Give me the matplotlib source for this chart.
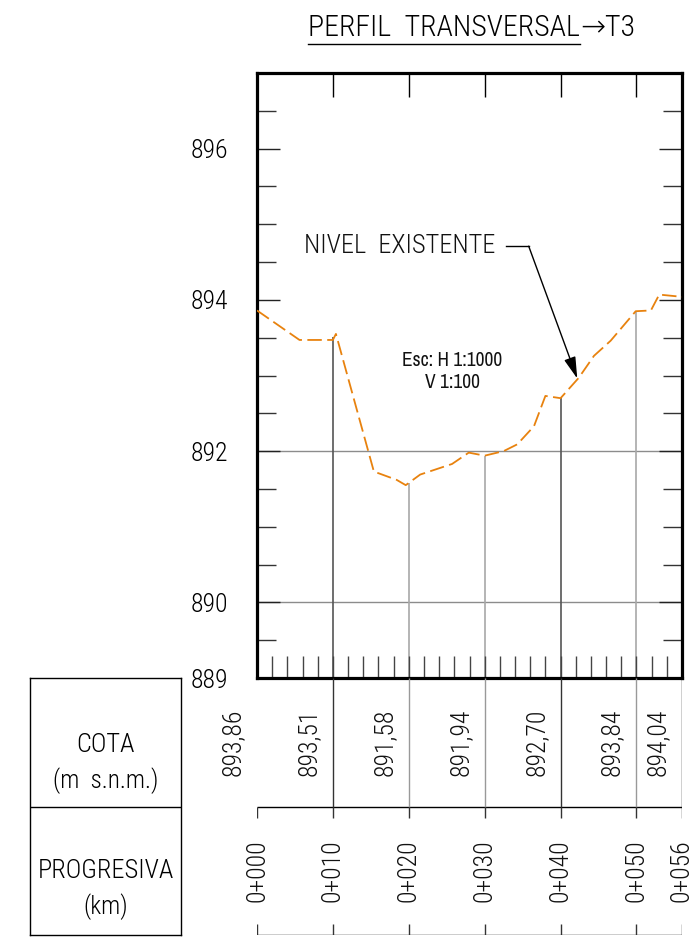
import matplotlib
matplotlib.use("Agg")
import matplotlib.pyplot as plt
import numpy as np
from matplotlib.lines import Line2D

# --- data ---
prof_x = [0, 5.6, 10.0, 10.4, 15.4, 18.4, 19.6, 21.5, 25.7, 27.9, 30.0, 32.5,
          34.3, 36.5, 38.0, 40.0, 42.4, 44.4, 46.6, 49.9, 51.9, 53.0, 56.0]
prof_z = [893.86, 893.47, 893.47, 893.55, 891.73, 891.62, 891.55, 891.69, 891.83,
          891.98, 891.94, 892.00, 892.09, 892.33, 892.73, 892.70, 892.97, 893.26,
          893.46, 893.85, 893.86, 894.07, 894.04]

stations = [0, 10, 20, 30, 40, 50, 56]
cotas = [893.86, 893.51, 891.58, 891.94, 892.70, 893.84, 894.04]
cota_labels = ["893,86", "893,51", "891,58", "891,94", "892,70", "893,84", "894,04"]
prog_labels = ["0+000", "0+010", "0+020", "0+030", "0+040", "0+050", "0+056"]

y_major = [889, 890, 892, 894, 896]
y_labels = ["889", "890", "892", "894", "896"]
grid_levels = [890, 892]

W, H = 689, 948
CAD = ["Roboto Condensed", "DejaVu Sans"]
ARIAL = ["Archivo Narrow", "Liberation Sans", "DejaVu Sans"]
plt.rcParams["font.family"] = CAD


def rect(x0, y0, x1, y1):
    # pixel box (top-left origin) -> figure fraction
    return [x0 / W, 1 - y1 / H, (x1 - x0) / W, (y1 - y0) / H]


fig = plt.figure(figsize=(W / 100, H / 100), dpi=100)

# --- profile plot ---
ax = fig.add_axes(rect(257, 73, 682, 678))
ax.set_xlim(0, 56)
ax.set_ylim(889, 897)

for g in grid_levels:
    ax.axhline(g, color="#8c8c8c", lw=1.0, zorder=1)

st_cols = ["#555555", "#a8a8a8", "#a8a8a8", "#555555", "#a8a8a8"]
for s, z, c in zip(stations[1:-1], cotas[1:-1], st_cols):
    ax.vlines(s, 889, z, color=c, lw=1.2, zorder=1)

ax.plot(prof_x, prof_z, color="#E8820E", lw=1.3, dashes=(8, 3), zorder=3)

for sp in ax.spines.values():
    sp.set_linewidth(2.3)
    sp.set_color("black")

ax.set_yticks(y_major)
ax.set_yticklabels(y_labels)
ax.set_yticks(np.arange(889.5, 897, 0.5), minor=True)
ax.tick_params(axis="y", which="major", direction="in", length=16.6, width=1.0,
               left=True, right=True, labelleft=True, labelright=False,
               pad=21, labelsize=18.5, color="#222222")
ax.tick_params(axis="y", which="minor", direction="in", length=13.7, width=1.0,
               left=True, right=True, color="#333333")
for lab in ax.get_yticklabels():
    lab.set_fontweight("light")

# bottom ticks every 2 m, top ticks at stations
ax.xaxis.remove_overlapping_locs = False
ax.set_xticks(stations[1:-1])
ax.set_xticks(np.arange(2, 56, 2), minor=True)
ax.tick_params(axis="x", which="major", direction="in", length=17.3, width=1.0,
               bottom=False, top=True, labelbottom=False, labeltop=False)
ax.tick_params(axis="x", which="minor", direction="in", length=15.8, width=1.0,
               bottom=True, top=False, color="#444444")
for t, c in zip(ax.xaxis.get_major_ticks(), ["#111111", "#888888", "#888888", "#111111", "#888888"]):
    t.tick2line.set_color(c)

# labels inside the plot
ax.text(25.7, 893.05, "Esc: H 1:1000\nV 1:100", ha="center", va="center",
        fontsize=14, family=ARIAL, linespacing=1.2, color="#111111")
ax.text(31.4, 894.71, "NIVEL  EXISTENTE", ha="right", va="center",
        fontsize=19, fontweight="light", color="#111111")
ax.plot([32.8, 35.8], [894.71, 894.71], color="black", lw=1.0)
ax.annotate("", xy=(42.2, 892.96), xytext=(35.8, 894.71),
            arrowprops=dict(arrowstyle="-|>,head_length=1.1,head_width=0.3",
                            mutation_scale=12, color="black", lw=1.0,
                            shrinkA=0, shrinkB=0))

# --- table (data rows) ---
axt = fig.add_axes(rect(257, 678, 682, 935))
axt.set_xlim(0, 56)
axt.set_ylim(2, 0)
axt.axis("off")
axt.hlines([1, 2], 0, 56, color="black", lw=1.0)
row_cols = ["#333333", "#999999", "#999999", "#333333", "#999999", "#111111"]
for s, c in zip(stations[1:], row_cols):
    axt.vlines(s, 0, 1, color=c, lw=1.0)
for s in stations:
    axt.vlines(s, 1, 1 + 12 / 129, color="#333333", lw=1.0)
    axt.vlines(s, 2 - 11 / 129, 2, color="#333333", lw=1.0)

for s, lab in zip(stations, cota_labels):
    axt.annotate(lab, xy=(s, 0.5), xytext=(-17.5, 0), textcoords="offset points",
                 rotation=90, ha="center", va="center", fontsize=18.5,
                 fontweight="light", color="#111111", annotation_clip=False)
for s, lab in zip(stations, prog_labels):
    axt.text(s, 1.5, lab, rotation=90, ha="center", va="center", fontsize=18.5,
             fontweight="light", color="#111111", clip_on=False)

# --- table header box ---
axl = fig.add_axes(rect(30, 678, 181, 935))
axl.set_xlim(0, 1)
axl.set_ylim(2, 0)
axl.set_xticks([])
axl.set_yticks([])
for sp in axl.spines.values():
    sp.set_linewidth(1.0)
axl.axhline(1, color="black", lw=1.0)
axl.text(0.5, 0.52, "COTA", ha="center", va="center", fontsize=19, fontweight="light")
axl.text(0.5, 0.80, "(m  s.n.m.)", ha="center", va="center", fontsize=18, fontweight="light")
axl.text(0.5, 1.50, "PROGRESIVA", ha="center", va="center", fontsize=19, fontweight="light")
axl.text(0.5, 1.78, "(km)", ha="center", va="center", fontsize=18, fontweight="light")

# --- title with underline ---
t1 = fig.text(308 / W, 1 - 28 / H, "PERFIL  TRANSVERSAL", ha="left", va="center",
              fontsize=21.5, fontweight="light")
fig.canvas.draw()
bb = t1.get_window_extent()
fig.text(bb.x1 / (W), 1 - 28 / H, "→T3", ha="left", va="center", fontsize=21.5,
         fontweight="light", family=CAD)
fig.add_artist(Line2D([bb.x0, bb.x1], [bb.y0 - 2, bb.y0 - 2], transform=None,
                      color="black", lw=1.0))

fig.savefig("out.png", dpi=100)
